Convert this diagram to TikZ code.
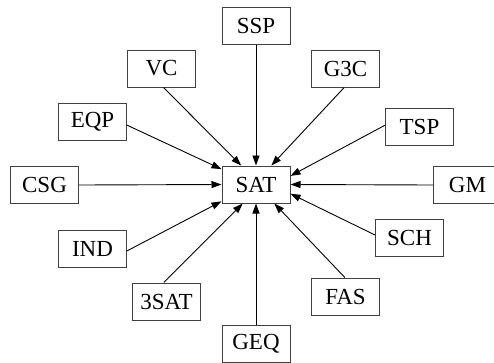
\documentclass[tikz,border=0pt]{standalone}
\usepackage{fontspec}
\setmainfont{Liberation Serif}
\usetikzlibrary{arrows.meta}
\tikzset{
  prob/.style={draw=black!75, line width=1pt, rectangle, minimum width=68pt, minimum height=37pt, inner sep=0pt, font=\fontsize{23}{26}\selectfont},
  red/.style={draw=black, line width=0.9pt, -{Triangle[length=10pt,width=7pt]}}
}
\begin{document}
\begin{tikzpicture}[x=1pt,y=-1pt]
\useasboundingbox (0,0) rectangle (494,362);
\node[prob] (sat) at (256,184.5) {SAT};
\node[prob] (ssp) at (256,26) {SSP};
\node[prob] (vc) at (161.5,68.5) {VC};
\node[prob] (g3c) at (345.5,68.5) {G3C};
\node[prob] (eqp) at (92.5,121.5) {EQP};
\node[prob] (tsp) at (419.5,127) {TSP};
\node[prob] (csg) at (44.5,185) {CSG};
\node[prob] (gm) at (467.5,185) {GM};
\node[prob] (ind) at (92.5,248.5) {IND};
\node[prob] (sch) at (409.5,238) {SCH};
\node[prob] (sat3) at (166.5,301.5) {3SAT};
\node[prob] (fas) at (345.5,296.5) {FAS};
\node[prob] (geq) at (256,344) {GEQ};

\draw[red] (ssp.south) -- (sat.north);
\draw[red] (vc.-84) -- (sat.128);
\draw[red] (g3c.-94) -- (sat.51);
\draw[red] (tsp.177) -- (sat.14);
\draw[red] (eqp.-6) -- (sat.156);
\draw[red] (csg.east) -- (sat.west);
\draw[red] (gm.west) -- (sat.east);
\draw[red] (sch.175) -- (sat.-15);
\draw[red] (fas.92) -- (sat.-46);
\draw[red] (geq.north) -- (sat.south);
\draw[red] (ind.-4) -- (sat.206);
\draw[red] (sat3.98) -- (sat.235);
\end{tikzpicture}
\end{document}
